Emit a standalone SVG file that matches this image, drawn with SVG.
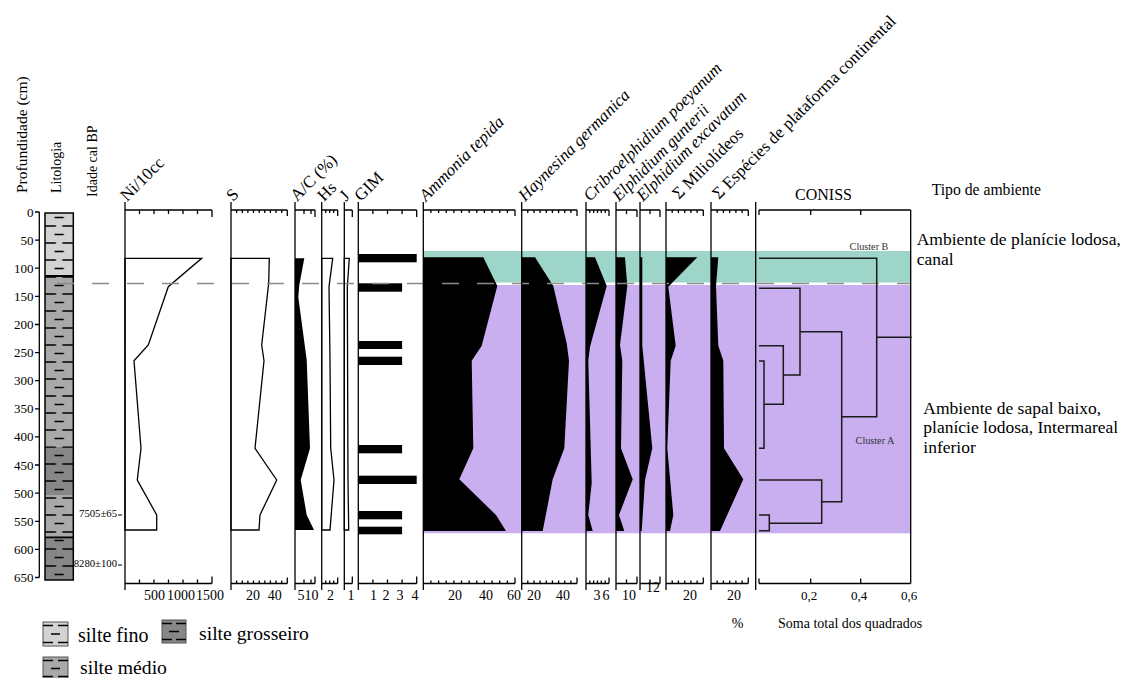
<svg xmlns="http://www.w3.org/2000/svg" width="1125" height="678" viewBox="0 0 1125 678" font-family="'Liberation Serif', 'Times New Roman', Times, serif">
<style>
 .t{fill:#000}
 .ax{stroke:#000;stroke-width:1.3;fill:none}
 .crv{fill:#fff;stroke:#000;stroke-width:1.3;stroke-linejoin:miter}
 .blk{fill:#000}
 .dend{stroke:#1a1a1a;stroke-width:1.5;fill:none}
 .hd{font-size:17px}
 .it{font-style:italic}
 .dl{font-size:13px}
 .bl{font-size:14px}
 .dash{stroke:#000;stroke-width:1.4}
</style>
<defs>
 <pattern id="pf" patternUnits="userSpaceOnUse" x="45" y="213" width="28.3" height="17">
  <rect width="28.3" height="17" fill="#d3d3d3"/>
  <path d="M9.5 4.5H18.8M0 13H11M17.3 13H28.3" stroke="#000" stroke-width="1.4"/>
 </pattern>
 <pattern id="pm" patternUnits="userSpaceOnUse" x="45" y="213" width="28.3" height="17">
  <rect width="28.3" height="17" fill="#a9a9a9"/>
  <path d="M9.5 4.5H18.8M0 13H11M17.3 13H28.3" stroke="#000" stroke-width="1.4"/>
 </pattern>
 <pattern id="pg" patternUnits="userSpaceOnUse" x="45" y="213" width="28.3" height="17">
  <rect width="28.3" height="17" fill="#878787"/>
  <path d="M9.5 4.5H18.8M0 13H11M17.3 13H28.3" stroke="#000" stroke-width="1.4"/>
 </pattern>
</defs>

<g id="left-labels" class="t" font-family="'Liberation Serif', serif">
 <text font-size="15.5" transform="translate(27 193) rotate(-90)">Profundidade (cm)</text>
 <text font-size="14" transform="translate(61 193) rotate(-90)">Litologia</text>
 <text font-size="14" transform="translate(97 197) rotate(-90)">Idade cal BP</text>
</g>

<g id="depth-axis">
 <path class="ax" d="M39.3 212V577.5 M35 212H39.3 M35 240.1H39.3 M35 268.2H39.3 M35 296.3H39.3 M35 324.5H39.3 M35 352.6H39.3 M35 380.7H39.3 M35 408.8H39.3 M35 436.9H39.3 M35 465H39.3 M35 493.2H39.3 M35 521.3H39.3 M35 549.4H39.3 M35 577.5H39.3"/>
 <g class="t dl" text-anchor="end" font-family="'Liberation Serif', serif">
  <text x="33.5" y="216.5">0</text>
  <text x="33.5" y="244.6">50</text>
  <text x="33.5" y="272.7">100</text>
  <text x="33.5" y="300.8">150</text>
  <text x="33.5" y="329">200</text>
  <text x="33.5" y="357.1">250</text>
  <text x="33.5" y="385.2">300</text>
  <text x="33.5" y="413.3">350</text>
  <text x="33.5" y="441.4">400</text>
  <text x="33.5" y="469.5">450</text>
  <text x="33.5" y="497.7">500</text>
  <text x="33.5" y="525.8">550</text>
  <text x="33.5" y="553.9">600</text>
  <text x="33.5" y="582">650</text>
 </g>
</g>

<g id="lithology">
 <rect x="45" y="213" width="28.3" height="63" fill="url(#pf)"/>
 <rect x="45" y="276" width="28.3" height="170.7" fill="url(#pm)"/>
 <rect x="45" y="446.7" width="28.3" height="48.3" fill="url(#pg)"/>
 <rect x="45" y="495" width="28.3" height="42.3" fill="url(#pm)"/>
 <rect x="45" y="537.3" width="28.3" height="42.7" fill="url(#pg)"/>
 <path d="M45 276H73.3M45 537.3H73.3" stroke="#000" stroke-width="1.8"/>
 <rect x="45" y="213" width="28.3" height="367" fill="none" stroke="#000" stroke-width="1.5"/>
</g>

<g id="ages" class="t" font-size="10.7" text-anchor="end" font-family="'Liberation Serif', serif">
 <text x="117" y="517">7505±65</text>
 <text x="117" y="567">8280±100</text>
 <path d="M118 515H122M118 565H122" stroke="#000" stroke-width="1.2"/>
</g>

<g id="bands">
 <rect x="423.3" y="251" width="487.4" height="31.5" fill="#9dd5c9"/>
 <rect x="423.3" y="285" width="487.4" height="248.3" fill="#c9aef0"/>
</g>

<g id="data">
 <polygon class="crv" points="125,258.3 201.7,258.3 168.3,286.7 148.3,345 134,360.7 141,448.3 137.3,480 156.7,515 156.7,530 125,530"/>
 <polygon class="crv" points="231,258.3 269.3,258.3 268.7,283.3 261.7,345 264,360.7 255,448.3 276.7,480 260,515 259,530 231,530"/>
 <polygon class="blk" points="295,258.3 304.3,258.3 299.3,285 298.3,297 306.7,360 310,448.3 300.7,480 306.7,515 314,530 295,530"/>
 <polygon class="crv" points="321.7,258.3 332.7,258.3 329,286.7 330,360 330.7,448 334,480 330,530 321.7,530"/>
 <polygon class="crv" points="344.3,258.3 349.3,258.3 347.3,287 348,480 348.7,530 344.3,530"/>
 <g class="blk">
  <rect x="358.3" y="254" width="58.4" height="8.3"/>
  <rect x="358.3" y="283.3" width="43.8" height="8.4"/>
  <rect x="358.3" y="341" width="43.8" height="8"/>
  <rect x="358.3" y="356.7" width="43.8" height="8.3"/>
  <rect x="358.3" y="445" width="43.8" height="8.3"/>
  <rect x="358.3" y="475.7" width="58.4" height="8.3"/>
  <rect x="358.3" y="511" width="43.8" height="8.3"/>
  <rect x="358.3" y="526.7" width="43.8" height="7.6"/>
 </g>
 <polygon class="blk" points="423.3,257.3 483.3,257.3 497.3,286 481.7,345.7 471.7,360.7 473.3,448.3 459.3,479.3 496,515 506,531 423.3,531"/>
 <polygon class="blk" points="521.7,257.3 535,257.3 553.3,286 566.7,343.3 569,360.7 564.3,448.3 552.7,479.3 542.7,531 521.7,531"/>
 <polygon class="blk" points="586,257.3 595,257.3 606.7,286 590,346.7 588.3,360.7 591.7,483 588.3,515 592.7,531 586,531"/>
 <polygon class="blk" points="616,257.3 625,257.3 627.3,286 620,345 622.3,360.7 621,448.3 632.7,479.3 619,515 624.3,531 616,531"/>
 <polygon class="blk" points="640,257.3 642.3,257.3 642.3,345.7 652.3,448.3 645,480 641.7,531 640,531"/>
 <polygon class="blk" points="666,257.3 697.3,257.3 668.3,286.7 675.7,345.7 670.7,360.7 667.3,448.3 673.3,515 670,531 666,531"/>
 <polygon class="blk" points="711,257.3 718.3,257.3 716,286 718.3,345.7 723.3,360.7 724,448.3 743.3,479.3 720,531 711,531"/>
</g>

<line x1="57" y1="283.5" x2="910" y2="283.5" stroke="#8a8a8a" stroke-width="1.5" stroke-dasharray="17 18"/>

<g id="axes" class="ax">
 <path d="M125 202V590M125 210H212M139.5 210v4M154 210v4M168.5 210v4M183 210v4M197.5 210v4M212 210v7M125 583.5H212M139.5 583.5v-4M154 583.5v-4M168.5 583.5v-4M183 583.5v-4M197.5 583.5v-4M212 583.5v-7"/>
 <path d="M231 202V590M231 210H287.3M236.6 210v3M242.3 210v3M247.9 210v3M253.5 210v3M259.2 210v3M264.8 210v3M270.4 210v3M276 210v3M281.7 210v3M287.3 210v6M231 583.5H287.3M236.6 583.5v-3M242.3 583.5v-3M247.9 583.5v-3M253.5 583.5v-3M259.2 583.5v-3M264.8 583.5v-3M270.4 583.5v-3M276 583.5v-3M281.7 583.5v-3M287.3 583.5v-6"/>
 <path d="M295 202V590M295 210H315M304 210v4M311 210v4M315 210v7M295 583.5H315M304 583.5v-4M311 583.5v-4M315 583.5v-7"/>
 <path d="M321.7 202V590M321.7 210H337.7M325.7 210v3M329.7 210v3M333.7 210v3M337.7 210v6M321.7 583.5H337.7M325.7 583.5v-3M329.7 583.5v-3M333.7 583.5v-3M337.7 583.5v-6"/>
 <path d="M344.3 202V590M344.3 210H352.3M352.3 210v7M344.3 583.5H352.3M352.3 583.5v-7"/>
 <path d="M358.3 202V590M358.3 210H416.7M372.9 210v4M387.5 210v4M402.1 210v4M416.7 210v7M358.3 583.5H416.7M372.9 583.5v-4M387.5 583.5v-4M402.1 583.5v-4M416.7 583.5v-7"/>
 <path d="M423.3 202V590M423.3 210H515M430.9 210v3M438.6 210v3M446.2 210v3M453.9 210v3M461.5 210v3M469.2 210v3M476.8 210v3M484.4 210v3M492.1 210v3M499.7 210v3M507.4 210v3M515 210v6M423.3 583.5H515M430.9 583.5v-3M438.6 583.5v-3M446.2 583.5v-3M453.9 583.5v-3M461.5 583.5v-3M469.2 583.5v-3M476.8 583.5v-3M484.4 583.5v-3M492.1 583.5v-3M499.7 583.5v-3M507.4 583.5v-3M515 583.5v-6"/>
 <path d="M521.7 202V590M521.7 210H577M527.8 210v3M534 210v3M540.1 210v3M546.3 210v3M552.4 210v3M558.6 210v3M564.7 210v3M570.9 210v3M577 210v6M521.7 583.5H577M527.8 583.5v-3M534 583.5v-3M540.1 583.5v-3M546.3 583.5v-3M552.4 583.5v-3M558.6 583.5v-3M564.7 583.5v-3M570.9 583.5v-3M577 583.5v-6"/>
 <path d="M586 202V590M586 210H609M589.8 210v3M593.7 210v3M597.5 210v3M601.3 210v3M605.2 210v3M609 210v6M586 583.5H609M589.8 583.5v-3M593.7 583.5v-3M597.5 583.5v-3M601.3 583.5v-3M605.2 583.5v-3M609 583.5v-6"/>
 <path d="M616 202V590M616 210H637M626.5 210v4M637 210v7M616 583.5H637M626.5 583.5v-4M637 583.5v-7"/>
 <path d="M640 202V590M640 210H660M650 210v4M660 210v7M640 583.5H660M650 583.5v-4M660 583.5v-7"/>
 <path d="M666 202V590M666 210H703.3M672.2 210v3M678.4 210v3M684.7 210v3M690.9 210v3M697.1 210v3M703.3 210v6M666 583.5H703.3M672.2 583.5v-3M678.4 583.5v-3M684.7 583.5v-3M690.9 583.5v-3M697.1 583.5v-3M703.3 583.5v-6"/>
 <path d="M711 202V590M711 210H748.3M717.2 210v3M723.4 210v3M729.7 210v3M735.9 210v3M742.1 210v3M748.3 210v6M711 583.5H748.3M717.2 583.5v-3M723.4 583.5v-3M729.7 583.5v-3M735.9 583.5v-3M742.1 583.5v-3M748.3 583.5v-6"/>
 <path d="M755.7 202V590M759 210H910.7M759 210v5M810.7 210v5M860.7 210v5M910.7 210V583.5M759 583.5H910.7M759 583.5v-5M810.7 583.5v-5M860.7 583.5v-5"/>
</g>

<g id="connectors" class="dend">
 <path d="M759 258.3H876.7V416.7H841.7"/>
 <path d="M876.7 337.3H911.7"/>
 <path d="M800 331.7H841.7V501.7H821.7"/>
 <path d="M759 288.3H800V375H783.3"/>
 <path d="M759 345.7H783.3V404.3H764"/>
 <path d="M759 361H764V448.3H759"/>
 <path d="M759 480H821.7V523.3H769.3"/>
 <path d="M759 515H769.3V530.7H759"/>
</g>
<g id="cluster-labels" font-size="10.2" fill="#333" text-anchor="middle" font-family="'Liberation Serif', serif">
 <text x="869" y="250">Cluster B</text>
 <text x="875" y="444">Cluster A</text>
</g>

<g id="headers" class="t hd" font-family="'Liberation Serif', serif">
 <text transform="translate(127 202) rotate(-45)">Ni/10cc</text>
 <text transform="translate(233 202) rotate(-45)">S</text>
 <text transform="translate(297 202) rotate(-45)">A/C (%)</text>
 <text transform="translate(324 202) rotate(-45)">Hs</text>
 <text transform="translate(346 202) rotate(-45)">J</text>
 <text transform="translate(361 202) rotate(-45)">GIM</text>
 <text class="it" transform="translate(426 202) rotate(-45)">Ammonia tepida</text>
 <text class="it" transform="translate(525 202) rotate(-45)">Haynesina germanica</text>
 <text class="it" transform="translate(590 202) rotate(-45)">Cribroelphidium poeyanum</text>
 <text class="it" transform="translate(619 202) rotate(-45)">Elphidium gunterii</text>
 <text class="it" transform="translate(643 202) rotate(-45)">Elphidium excavatum</text>
 <text transform="translate(679 200) rotate(-45)">Σ Miliolídeos</text>
 <text transform="translate(719 200) rotate(-45)">Σ Espécies de plataforma continental</text>
 <text x="823.5" y="200" text-anchor="middle" font-size="16">CONISS</text>
 <text x="931.7" y="195" font-size="15.7">Tipo de ambiente</text>
</g>

<g id="scales" class="t bl" text-anchor="middle" font-family="'Liberation Serif', serif">
 <text x="154.5" y="600">500</text>
 <text x="181" y="600">1000</text>
 <text x="210" y="600">1500</text>
 <text x="253" y="600">20</text>
 <text x="274.7" y="600">40</text>
 <text x="308" y="600">510</text>
 <text x="330.5" y="600">2</text>
 <text x="351" y="600">1</text>
 <text x="373.5" y="600">1</text>
 <text x="386" y="600">2</text>
 <text x="400" y="600">3</text>
 <text x="415" y="600">4</text>
 <text x="455" y="600">20</text>
 <text x="486" y="600">40</text>
 <text x="514" y="600">60</text>
 <text x="534" y="600">20</text>
 <text x="563" y="600">40</text>
 <text x="597" y="600">3</text>
 <text x="606" y="600">6</text>
 <text x="629" y="600">10</text>
 <text x="653" y="592">12</text>
 <text x="690" y="600">20</text>
 <text x="734" y="600">20</text>
 <text x="809" y="600" font-size="13">0,2</text>
 <text x="859" y="600" font-size="13">0,4</text>
 <text x="909" y="600" font-size="13">0,6</text>
 <text x="737.5" y="628">%</text>
 <text x="778" y="628" text-anchor="start">Soma total dos quadrados</text>
</g>

<g id="environment" class="t" font-size="17.5" font-family="'Liberation Serif', serif">
 <text x="916.7" y="245">Ambiente de planície lodosa,</text>
 <text x="916.7" y="264.5">canal</text>
 <text x="923.3" y="413.5">Ambiente de sapal baixo,</text>
 <text x="923.3" y="433">planície lodosa, Intermareal</text>
 <text x="923.3" y="452.5">inferior</text>
</g>

<g id="legend-fino">
 <rect x="43" y="622" width="25" height="24" fill="#d3d3d3" stroke="#555" stroke-width="1"/>
 <path class="dash" d="M43 625.5H53M58 625.5H68M51 634H60M43 642.5H53M58 642.5H68"/>
 <text class="t" x="78" y="641.5" font-size="20" font-family="'Liberation Serif', serif">silte fino</text>
</g>
<g id="legend-grosseiro">
 <rect x="162" y="620" width="24" height="23" fill="#878787" stroke="#555" stroke-width="1"/>
 <path class="dash" d="M162 623.5H172M176 623.5H186M169 631.5H179M162 639.5H172M176 639.5H186"/>
 <text class="t" x="199" y="640" font-size="19.7" font-family="'Liberation Serif', serif">silte grosseiro</text>
</g>
<g id="legend-medio">
 <rect x="43" y="657" width="25" height="22" fill="#a9a9a9" stroke="#555" stroke-width="1"/>
 <path class="dash" d="M43 660.5H53M58 660.5H68M51 668.5H60M43 676.5H53M58 676.5H68"/>
 <text class="t" x="80" y="674" font-size="19.7" font-family="'Liberation Serif', serif">silte médio</text>
</g>
</svg>
